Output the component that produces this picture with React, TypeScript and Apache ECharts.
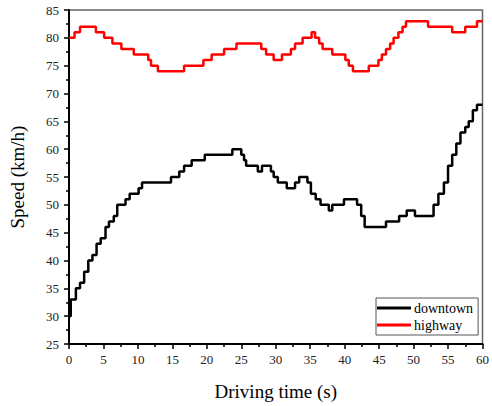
import React, { useEffect, useRef } from "react";
import * as echarts from "echarts";

const xTicks = { min: 0, max: 60, interval: 5 };
const yTicks = { min: 25, max: 85, interval: 5 };

const seriesNames = ["downtown", "highway"];

// [time (s), speed (km/h)] — value holds from this time until the next point
const downtown: [number, number][] = [
  [0, 30], [0.25, 33], [1.0, 35], [1.6, 36], [2.2, 38], [2.8, 40], [3.4, 41], [4.0, 43],
  [4.6, 44], [5.3, 46], [5.8, 47], [6.5, 48], [7.0, 50], [8.2, 51], [8.8, 52], [10.1, 53],
  [10.6, 54], [14.8, 55], [16.0, 56], [16.7, 57], [17.8, 58], [19.7, 59], [23.7, 60],
  [25.0, 59], [25.4, 58], [25.7, 57], [27.4, 56], [28.0, 57], [29.3, 56], [29.7, 55],
  [30.3, 54], [31.6, 53], [32.8, 54], [33.4, 55], [34.6, 54], [35.1, 52], [35.8, 51],
  [36.5, 50], [37.7, 49], [38.2, 50], [39.9, 51], [41.8, 50], [42.4, 48], [42.9, 46],
  [46.0, 47], [47.9, 48], [49.0, 49], [50.2, 48], [52.9, 50], [53.6, 52], [54.4, 54],
  [55.0, 57], [55.6, 59], [56.2, 61], [56.8, 63], [57.5, 64], [58.0, 65], [58.6, 67],
  [59.2, 68], [60, 68],
];

const highway: [number, number][] = [
  [0, 80], [0.8, 81], [1.6, 82], [3.9, 81], [5.1, 80], [6.3, 79], [7.6, 78], [9.4, 77],
  [11.5, 76], [11.9, 75], [12.9, 74], [16.7, 75], [19.5, 76], [20.7, 77], [22.5, 78],
  [24.3, 79], [27.9, 78], [28.6, 77], [29.7, 76], [30.9, 77], [32.2, 78], [32.8, 79],
  [33.9, 80], [35.2, 81], [35.7, 80], [36.3, 79], [36.8, 78], [38.2, 77], [40.1, 76],
  [40.6, 75], [41.2, 74], [43.5, 75], [44.9, 76], [45.4, 77], [46.0, 78], [46.6, 79],
  [47.1, 80], [47.8, 81], [48.4, 82], [48.9, 83], [52.1, 82], [55.6, 81], [57.5, 82],
  [59.2, 83], [60, 83],
];

const FONT = "Liberation Serif";

export default function App() {
  const ref = useRef<HTMLDivElement>(null);
  useEffect(() => {
    if (!ref.current) return;
    const chart = echarts.init(ref.current, null, { renderer: "svg" });
    const axisCommon = {
      axisLine: { show: true, lineStyle: { color: "#000", width: 2 } },
      axisTick: { show: true, inside: false, length: 5, lineStyle: { color: "#000", width: 1.5 } },
      minorTick: { show: true, splitNumber: 2, length: 3, lineStyle: { color: "#000", width: 1.5 } },
      splitLine: { show: false },
      nameTextStyle: { fontFamily: FONT, fontSize: 19, color: "#000" },
    };
    chart.setOption({
      animation: false,
      backgroundColor: "#fff",
      grid: {
        left: 69, right: 5, top: 10, bottom: 60,
        show: true, borderColor: "#666", borderWidth: 1.5,
      },
      legend: {
        data: seriesNames,
        orient: "vertical",
        left: 376, top: 298,
        padding: [3, 5, 3, 1],
        itemGap: 3,
        itemWidth: 34, itemHeight: 3,
        icon: "rect",
        borderColor: "#555", borderWidth: 1,
        backgroundColor: "#fff",
        textStyle: { fontFamily: FONT, fontSize: 14, color: "#000", padding: [0, 0, 0, -2] },
      },
      xAxis: {
        type: "value",
        ...xTicks,
        name: "Driving time (s)",
        nameLocation: "middle",
        nameGap: 38,
        ...axisCommon,
        axisLabel: { fontFamily: FONT, fontSize: 13, color: "#222", margin: 9 },
      },
      yAxis: {
        type: "value",
        ...yTicks,
        name: "Speed (km/h)",
        nameLocation: "middle",
        nameGap: 42,
        ...axisCommon,
        axisLabel: { fontFamily: FONT, fontSize: 13, color: "#222", margin: 10 },
      },
      series: [
        {
          name: seriesNames[0], type: "line", step: "end", data: downtown,
          showSymbol: false, symbol: "none",
          lineStyle: { color: "#000", width: 2.5 }, itemStyle: { color: "#000" },
        },
        {
          name: seriesNames[1], type: "line", step: "end", data: highway,
          showSymbol: false, symbol: "none",
          lineStyle: { color: "#ff0000", width: 2.5 }, itemStyle: { color: "#ff0000" },
        },
      ],
    });
    return () => chart.dispose();
  }, []);
  return <div ref={ref} style={{ width: 492, height: 406, position: "absolute", left: 0, top: 0 }} />;
}
